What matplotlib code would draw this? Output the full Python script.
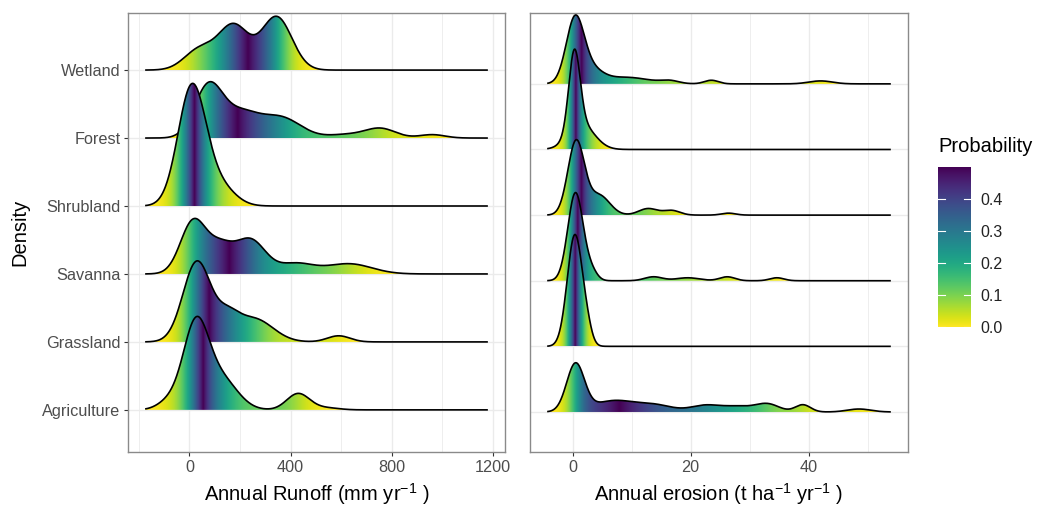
import numpy as np
import matplotlib
matplotlib.use('Agg')
import matplotlib.pyplot as plt
from matplotlib.patches import Polygon

plt.rcParams['font.family'] = ['Liberation Sans', 'DejaVu Sans']
plt.rcParams['mathtext.fontset'] = 'custom'
plt.rcParams['mathtext.rm'] = 'Liberation Sans'
plt.rcParams['mathtext.it'] = 'Liberation Sans:italic'
plt.rcParams['mathtext.bf'] = 'Liberation Sans:bold'

categories = ['Agriculture', 'Grassland', 'Savanna', 'Shrubland', 'Forest', 'Wetland']

# Ridge shapes, as bumps: (centre, spread, height in row units)
runoff_agriculture = [(25, 50, 1.22), (-80, 45, 0.12), (125, 65, 0.45), (430, 45, 0.24), (540, 50, 0.03)]
runoff_grassland = [(30, 55, 1.18), (150, 45, 0.3), (255, 75, 0.34), (590, 45, 0.09)]
runoff_savanna = [(15, 50, 0.77), (120, 50, 0.37), (240, 60, 0.5), (420, 70, 0.15), (630, 90, 0.15)]
runoff_shrubland = [(10, 55, 1.75), (120, 60, 0.28)]
runoff_forest = [(75, 55, 0.75), (200, 70, 0.35), (360, 80, 0.3), (620, 70, 0.05), (755, 60, 0.14), (960, 50, 0.05)]
runoff_wetland = [(40, 60, 0.3), (175, 60, 0.65), (345, 60, 0.78)]

erosion_agriculture = [(0.5, 1.5, 0.72), (7, 3.5, 0.17), (14, 3, 0.1), (22.5, 2.5, 0.1), (28, 2.5, 0.08),
                       (33, 2, 0.12), (39, 1.3, 0.11), (48.5, 2, 0.045)]
erosion_grassland = [(0.4, 1.3, 1.7), (2.5, 0.8, 0.15)]
erosion_savanna = [(0.5, 1.3, 1.34), (3.2, 1.0, 0.13), (13.7, 1.5, 0.06), (19.5, 2, 0.045), (26.2, 1.3, 0.06), (34.6, 1.2, 0.045)]
erosion_shrubland = [(0.6, 1.4, 1.12), (4.5, 1.8, 0.3), (12.8, 1.6, 0.1), (16.8, 1.4, 0.07), (26.4, 1.2, 0.03)]
erosion_forest = [(0.3, 0.95, 1.2), (1.5, 2.2, 0.38)]
erosion_wetland = [(0.4, 1.5, 0.95), (3, 2, 0.2), (9, 4, 0.1), (16.5, 1.5, 0.04), (23.5, 1.2, 0.055), (42, 2, 0.045)]

runoff_range = (-175, 1180)
erosion_range = (-4.3, 53.9)

runoff = [runoff_agriculture, runoff_grassland, runoff_savanna, runoff_shrubland, runoff_forest, runoff_wetland]
erosion = [erosion_agriculture, erosion_grassland, erosion_savanna, erosion_shrubland, erosion_forest, erosion_wetland]

prob_ticks = [0.0, 0.1, 0.2, 0.3, 0.4]


def draw_ridges(ax, ridges, xr):
    x = np.linspace(xr[0], xr[1], 1000)
    n = len(ridges)
    # top row first, so lower rows sit on top of it
    for i in range(n - 1, -1, -1):
        y = sum(h * np.exp(-0.5 * ((x - c) / s) ** 2) for c, s, h in ridges[i])
        ecdf = np.cumsum(y)
        ecdf = ecdf / ecdf[-1]
        prob = 0.5 - np.abs(0.5 - ecdf)
        base = i + 1
        z = 10 + 2 * (n - i)
        im = ax.imshow(prob[None, :], cmap='viridis_r', vmin=0, vmax=0.5, aspect='auto',
                       extent=(x[0], x[-1], base, base + y.max()), origin='lower',
                       interpolation='bilinear', zorder=z)
        verts = np.column_stack([np.r_[x, x[-1], x[0]], np.r_[base + y, base, base]])
        poly = Polygon(verts, closed=True, transform=ax.transData)
        im.set_clip_path(poly)
        ax.plot(x, base + y, color='black', lw=1.2, zorder=z + 1, solid_capstyle='butt')
    pad = 0.05 * (xr[1] - xr[0])
    ax.set_xlim(xr[0] - pad, xr[1] + pad)


def style(ax, major, minor):
    ax.set_xticks(major)
    ax.set_xticks(minor, minor=True)
    ax.set_yticks(range(1, 7))
    ax.grid(True, which='major', color='#EBEBEB', lw=1.0, zorder=0)
    ax.grid(True, which='minor', axis='x', color='#EBEBEB', lw=0.6, zorder=0)
    ax.set_axisbelow(True)
    for sp in ax.spines.values():
        sp.set_color('#8A8A8A')
        sp.set_linewidth(1.0)
    ax.tick_params(which='major', length=3, width=0.8, color='#333333', labelcolor='#4D4D4D',
                   labelsize=11.7, pad=2.5)
    ax.tick_params(which='minor', length=0)


fig = plt.figure(figsize=(10.38, 5.08), dpi=100)
ax1 = fig.add_axes([128 / 1038, 56 / 508, 377 / 1038, 439 / 508])
ax2 = fig.add_axes([530 / 1038, 56 / 508, 378 / 1038, 439 / 508])

draw_ridges(ax1, runoff, runoff_range)
draw_ridges(ax2, erosion, erosion_range)

style(ax1, [0, 400, 800, 1200], [-200, 200, 600, 1000])
style(ax2, [0, 20, 40], [10, 30, 50])
ax1.set_ylim(0.38, 6.84)
ax2.set_ylim(0.39, 7.08)
ax1.set_yticklabels(categories)
ax2.set_yticklabels([])
ax2.tick_params(axis='y', length=0)

ax1.set_xlabel('Annual Runoff (mm yr$^{-1}$ )', fontsize=14.5, labelpad=5)
ax2.set_xlabel('Annual erosion (t ha$^{-1}$ yr$^{-1}$ )', fontsize=14.5, labelpad=5)
ax1.set_ylabel('Density', fontsize=14.5, labelpad=9)

# colour bar
cax = fig.add_axes([938 / 1038, 181 / 508, 33 / 1038, 160 / 508])
cax.imshow(np.linspace(0, 0.5, 256)[:, None], cmap='viridis_r', vmin=0, vmax=0.5, aspect='auto',
           extent=(0, 1, 0, 0.5), origin='lower')
for t in prob_ticks:
    cax.plot([0, 0.2], [t, t], color='white', lw=0.8)
    cax.plot([0.8, 1], [t, t], color='white', lw=0.8)
cax.set_xlim(0, 1)
cax.set_ylim(0, 0.5)
cax.set_xticks([])
cax.yaxis.tick_right()
cax.set_yticks(prob_ticks)
cax.set_yticklabels(['%.1f' % t for t in prob_ticks])
cax.tick_params(length=0, pad=7, labelsize=11.5, labelcolor='#222222')
for sp in cax.spines.values():
    sp.set_visible(False)
fig.text(938 / 1038, 1 - 147 / 508, 'Probability', fontsize=14.5, ha='left', va='center')

fig.savefig('out.png', dpi=100)
